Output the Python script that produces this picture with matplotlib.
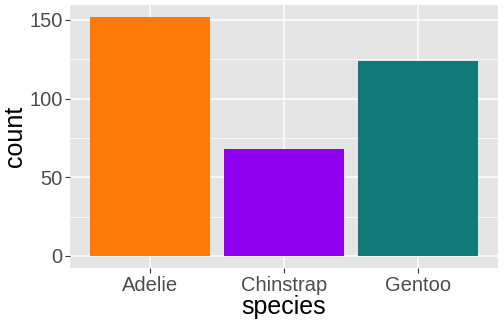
import matplotlib
matplotlib.use("Agg")
import matplotlib.pyplot as plt
from matplotlib.ticker import MultipleLocator

species = ["Adelie", "Chinstrap", "Gentoo"]
counts = [152, 68, 124]
colors = ["#FC790A", "#8E00EE", "#117A78"]

plt.rcParams['font.family'] = ['Liberation Sans', 'DejaVu Sans']

fig = plt.figure(figsize=(5.04, 3.24), dpi=100)
ax = fig.add_axes([0.139, 0.173, 0.849, 0.812])
ax.set_facecolor("#E5E5E5")
x = list(range(1, len(species) + 1))
ax.bar(x, counts, width=0.9, color=colors, zorder=3)
ax.set_xlim(0.4, 3.6)
ax.set_ylim(-7.6, 159.6)
ax.set_xticks(x)
ax.set_xticklabels(species)
ax.yaxis.set_major_locator(MultipleLocator(50))
ax.yaxis.set_minor_locator(MultipleLocator(25))
ax.grid(which="major", color="white", linewidth=1.1, zorder=0)
ax.grid(which="minor", axis="y", color="white", linewidth=0.55, zorder=0)
ax.set_axisbelow(True)
for s in ax.spines.values():
    s.set_visible(False)
ax.tick_params(which="major", length=3.5, width=0.8, color="#333333",
               labelsize=14.5, labelcolor="#4D4D4D", pad=2)
ax.tick_params(which="minor", length=0)
ax.set_xlabel("species", fontsize=18, color="black", labelpad=0)
ax.set_ylabel("count", fontsize=18, color="black", labelpad=1.5)
fig.savefig("out.png", dpi=100)
